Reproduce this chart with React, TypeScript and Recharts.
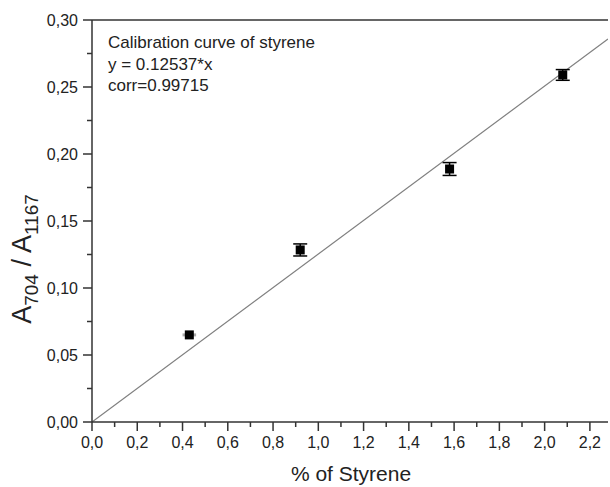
import {
  ComposedChart,
  Scatter,
  Line,
  XAxis,
  YAxis,
  ErrorBar,
  ReferenceLine,
  Customized,
} from "recharts";

// measured points (% styrene vs A704/A1167)
const styrenePct = [0.43, 0.92, 1.58, 2.08];
const absRatio = [0.065, 0.1284, 0.1888, 0.259];
const ratioErr = [0, 0.0045, 0.0048, 0.004];
const pctErr = [0.03, 0, 0, 0];

// fitted line y = 0.12537*x, drawn edge to edge
const fitX = [0, 2.28];
const fitY = [0, 0.2858];

const xTicks = [0, 0.1, 0.2, 0.3, 0.4, 0.5, 0.6, 0.7, 0.8, 0.9, 1.0, 1.1, 1.2, 1.3, 1.4, 1.5, 1.6, 1.7, 1.8, 1.9, 2.0, 2.1, 2.2];
const yTicks = [0, 0.025, 0.05, 0.075, 0.1, 0.125, 0.15, 0.175, 0.2, 0.225, 0.25, 0.275, 0.3];

const boxLines = ["Calibration curve of styrene", "y = 0.12537*x", "corr=0.99715"];

const FONT = "'Liberation Sans', Arial, sans-serif";
const AXIS = "#333";
const TEXT = "#222";

const points = styrenePct.map((x, i) => ({
  x,
  y: absRatio[i],
  err: ratioErr[i],
  xErr: pctErr[i],
}));

const fit = fitX.map((x, i) => ({ x, y: fitY[i] }));

const XTick = ({ x, y, payload }: any) => {
  const major = Math.round(payload.value * 10) % 2 === 0;
  return (
    <g>
      <line x1={x} x2={x} y1={y} y2={y + (major ? 9 : 5)} stroke={AXIS} strokeWidth={1.5} />
      {major && (
        <text x={x} y={y + 26} textAnchor="middle" fontSize={16} fill={TEXT} fontFamily={FONT}>
          {payload.value.toFixed(1).replace(".", ",")}
        </text>
      )}
    </g>
  );
};

const YTick = ({ x, y, payload }: any) => {
  const major = Math.round(payload.value * 1000) % 50 === 0;
  return (
    <g>
      <line x1={x} x2={x - (major ? 9 : 5)} y1={y} y2={y} stroke={AXIS} strokeWidth={1.5} />
      {major && (
        <text x={x - 14} y={y + 6} textAnchor="end" fontSize={16} fill={TEXT} fontFamily={FONT}>
          {payload.value.toFixed(2).replace(".", ",")}
        </text>
      )}
    </g>
  );
};

const Square = ({ cx, cy }: any) => (
  <rect x={cx - 4.5} y={cy - 4.5} width={9} height={9} fill="#000" />
);

const YLabel = () => (
  <text
    transform="translate(31,259) rotate(-90)"
    textAnchor="middle"
    fontSize={27}
    fill={TEXT}
    fontFamily={FONT}
  >
    A<tspan fontSize={19} dy={7}>704</tspan>
    <tspan dy={-7}> / A</tspan>
    <tspan fontSize={19} dy={7}>1167</tspan>
  </text>
);

const XLabel = () => (
  <text x={351} y={481} textAnchor="middle" fontSize={21} fill={TEXT} fontFamily={FONT}>
    % of Styrene
  </text>
);

const TextBox = () => (
  <g>
    {boxLines.map((line, i) => (
      <text key={i} x={108} y={48 + i * 21.5} fontSize={17} fill={TEXT} fontFamily={FONT}>
        {line}
      </text>
    ))}
  </g>
);

export default function App() {
  return (
    <div style={{ position: "absolute", left: 0, top: 0, background: "#fff" }}>
      <ComposedChart
        width={610}
        height={487}
        margin={{ top: 20, right: 2, left: 0, bottom: 0 }}
      >
        <XAxis
          type="number"
          dataKey="x"
          domain={[0, 2.28]}
          ticks={xTicks}
          interval={0}
          allowDataOverflow
          height={65}
          tickSize={0}
          tickMargin={0}
          tickLine={false}
          tick={<XTick />}
          axisLine={{ stroke: AXIS, strokeWidth: 1.5 }}
        />
        <YAxis
          type="number"
          dataKey="y"
          domain={[0, 0.3]}
          ticks={yTicks}
          interval={0}
          width={92}
          tickSize={0}
          tickMargin={0}
          tickLine={false}
          tick={<YTick />}
          axisLine={{ stroke: AXIS, strokeWidth: 1.5 }}
        />
        <ReferenceLine y={0.3} stroke={AXIS} strokeWidth={1.5} />
        <Line
          data={fit}
          dataKey="y"
          type="linear"
          stroke="#808080"
          strokeWidth={1.2}
          dot={false}
          activeDot={false}
          isAnimationActive={false}
        />
        <Scatter data={points} dataKey="y" shape={<Square />} isAnimationActive={false}>
          <ErrorBar dataKey="err" direction="y" width={7} stroke="#000" strokeWidth={1.5} />
          <ErrorBar dataKey="xErr" direction="x" width={0} stroke="#aaa" strokeWidth={3} />
        </Scatter>
        <Customized component={YLabel} />
        <Customized component={XLabel} />
        <Customized component={TextBox} />
      </ComposedChart>
    </div>
  );
}
